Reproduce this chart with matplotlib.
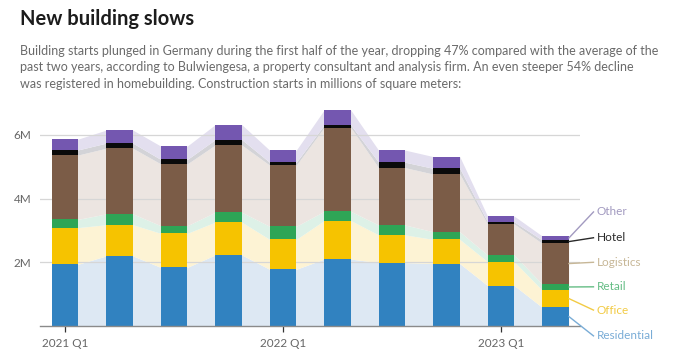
import numpy as np
import matplotlib
matplotlib.use("Agg")
import matplotlib.pyplot as plt

# ---- data (millions of square meters) ----
quarters = ["2021 Q1", "2021 Q2", "2021 Q3", "2021 Q4", "2022 Q1",
            "2022 Q2", "2022 Q3", "2022 Q4", "2023 Q1", "2023 Q2"]
residential = [1.94, 2.20, 1.84, 2.23, 1.78, 2.10, 1.99, 1.96, 1.27, 0.59]
office      = [1.15, 0.98, 1.07, 1.03, 0.94, 1.21, 0.87, 0.76, 0.75, 0.54]
retail      = [0.26, 0.34, 0.24, 0.31, 0.41, 0.29, 0.31, 0.24, 0.21, 0.19]
logistics   = [2.02, 2.06, 1.94, 2.11, 1.92, 2.63, 1.80, 1.81, 0.97, 1.28]
hotel       = [0.16, 0.16, 0.14, 0.17, 0.09, 0.08, 0.17, 0.18, 0.07, 0.10]
other       = [0.34, 0.41, 0.42, 0.47, 0.38, 0.47, 0.38, 0.37, 0.18, 0.13]
series_names = ["Residential", "Office", "Retail", "Logistics", "Hotel", "Other"]
yticks = [2, 4, 6]
ytick_labels = ["2M", "4M", "6M"]
xtick_idx = [0, 4, 8]

colors = ["#3182c0", "#f6c300", "#2ea556", "#7b5c47", "#0a0a0a", "#7457b0"]
area_colors = ["#dde8f3", "#fdf3d4", "#ddf1e7", "#ece5e1", "#d3d3d7", "#e3dfef"]
label_colors = ["#79acd6", "#f2cb45", "#65bd85", "#c7b797", "#2a2a2a", "#a29ac0"]

data = np.array([residential, office, retail, logistics, hotel, other])
cum = np.cumsum(data, axis=0)
bottoms = np.vstack([np.zeros(len(quarters)), cum[:-1]])

plt.rcParams['font.family'] = ['Lato', 'DejaVu Sans']

fig = plt.figure(figsize=(6.9, 3.64), dpi=100)
ax = fig.add_axes([0.058, 0.1044, 0.7826, 0.6126])

x = np.arange(len(quarters))
w = 0.49
# edge coordinates for connecting areas
xe = np.ravel(np.column_stack([x - w / 2, x + w / 2]))
for i in range(len(series_names)):
    lo = np.repeat(bottoms[i], 2)
    hi = np.repeat(cum[i], 2)
    ax.fill_between(xe, lo, hi, color=area_colors[i], lw=0, zorder=1)

for i in range(len(series_names)):
    ax.bar(x, data[i], bottom=bottoms[i], width=w, color=colors[i], lw=0, zorder=3)

ax.set_xlim(-0.459, 9.453)
ax.set_ylim(0, 7.0)
ax.set_yticks(yticks)
ax.set_yticklabels(ytick_labels)
ax.set_xticks(x[xtick_idx])
ax.set_xticklabels([quarters[i] for i in xtick_idx])
ax.grid(axis='y', color='#d6d6d6', lw=0.9, zorder=2)
ax.set_axisbelow(False)
for s in ["top", "right", "left"]:
    ax.spines[s].set_visible(False)
ax.spines["bottom"].set_color("#8a8a8a")
ax.spines["bottom"].set_linewidth(1.0)
ax.spines["bottom"].set_zorder(4)
ax.tick_params(axis='y', length=0, pad=6, labelsize=8.5, labelcolor='#666666')
ax.tick_params(axis='x', length=4, width=0.9, color='#333333', pad=5,
               labelsize=8.5, labelcolor='#666666')
for gl in ax.get_ygridlines():
    gl.set_zorder(2)

# right-hand labels with leader lines
label_y = [-0.31, 0.50, 1.23, 2.00, 2.77, 3.58]
last = len(quarters) - 1
for i, name in enumerate(series_names):
    ymid = bottoms[i][last] + data[i][last] / 2
    ax.plot([last + w / 2 + 0.005, 9.70], [ymid, label_y[i]], color=label_colors[i],
            lw=1.0, clip_on=False, zorder=5)
    ax.text(9.76, label_y[i], name, color=label_colors[i], fontsize=8.5,
            va='center', ha='left', clip_on=False)

fig.text(0.029, 0.948, "New building slows", fontsize=14.5, fontweight='bold',
         color='#1c1c1c', va='center', ha='left')
sub = ("Building starts plunged in Germany during the first half of the year, dropping 47% compared with the average of the\n"
       "past two years, according to Bulwiengesa, a property consultant and analysis firm. An even steeper 54% decline\n"
       "was registered in homebuilding. Construction starts in millions of square meters:")
fig.text(0.029, 0.815, sub, fontsize=9, color='#6a6a6a', va='center', ha='left',
         linespacing=1.45)

fig.savefig("out.png", dpi=100)
